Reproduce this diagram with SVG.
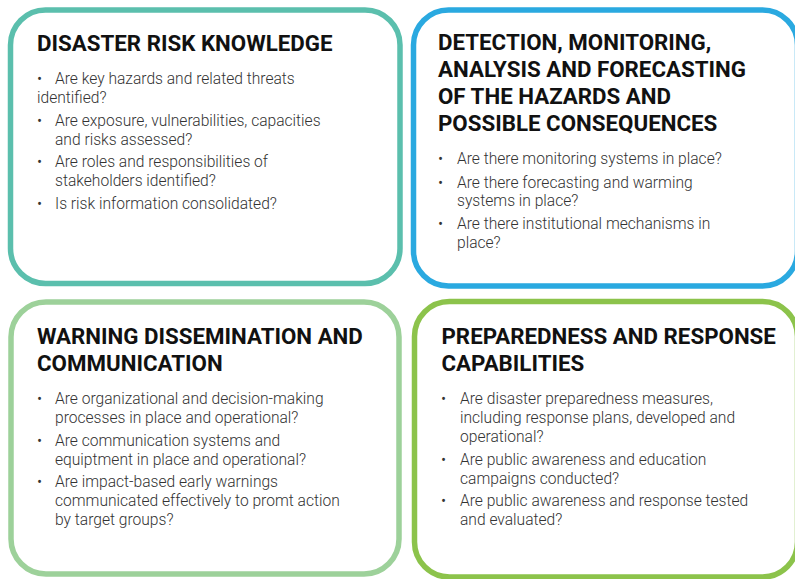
<svg xmlns="http://www.w3.org/2000/svg" width="795" height="579" viewBox="0 0 795 579">
  <style>
    .card { fill: #ffffff; stroke-width: 5.5; }
    .title { font-family: Roboto, "Liberation Sans", sans-serif; font-weight: 700; font-size: 22.3px; fill: #111111; }
    .body { font-family: Roboto, "Liberation Sans", sans-serif; font-weight: 300; font-size: 15.6px; fill: #333333; }
  </style>
  <rect width="795" height="579" fill="#ffffff"/>

  <!-- Top left: risk knowledge -->
  <g id="risk-knowledge">
    <rect class="card" x="10.5" y="10" width="389.5" height="273.5" rx="35" stroke="#5bbfad"/>
    <text class="title" x="37" y="50.5">DISASTER RISK KNOWLEDGE</text>
    <g transform="translate(0,1)">
      <text class="body" x="37" y="83">•</text>
      <text class="body" x="55" y="83">Are key hazards and related threats</text>
      <text class="body" x="37" y="102">identified?</text>
      <text class="body" x="37" y="125">•</text>
      <text class="body" x="55" y="125">Are exposure, vulnerabilities, capacities</text>
      <text class="body" x="55" y="144">and risks assessed?</text>
      <text class="body" x="37" y="166">•</text>
      <text class="body" x="55" y="166">Are roles and responsibilities of</text>
      <text class="body" x="55" y="185">stakeholders identified?</text>
      <text class="body" x="37" y="208">•</text>
      <text class="body" x="55" y="208">Is risk information consolidated?</text>
    </g>
  </g>

  <!-- Top right: detection and forecasting -->
  <g id="detection-forecasting">
    <rect class="card" x="413.5" y="10" width="384" height="276" rx="35" stroke="#2aa9e0"/>
    <text class="title" x="438" y="50">DETECTION, MONITORING,</text>
    <text class="title" x="438" y="77">ANALYSIS AND FORECASTING</text>
    <text class="title" x="438" y="104">OF THE HAZARDS AND</text>
    <text class="title" x="438" y="130.5">POSSIBLE CONSEQUENCES</text>
    <g transform="translate(0,1)">
      <text class="body" x="438" y="163">•</text>
      <text class="body" x="457" y="163">Are there monitoring systems in place?</text>
      <text class="body" x="438" y="187">•</text>
      <text class="body" x="457" y="187">Are there forecasting and warming</text>
      <text class="body" x="457" y="205">systems in place?</text>
      <text class="body" x="438" y="228">•</text>
      <text class="body" x="457" y="228">Are there institutional mechanisms in</text>
      <text class="body" x="457" y="247">place?</text>
    </g>
  </g>

  <!-- Bottom left: warning dissemination -->
  <g id="warning-dissemination">
    <rect class="card" x="11" y="302" width="388" height="272" rx="35" stroke="#9dd19a"/>
    <text class="title" x="37" y="343.5">WARNING DISSEMINATION AND</text>
    <text class="title" x="37" y="370.5">COMMUNICATION</text>
    <g transform="translate(0,1)">
      <text class="body" x="37" y="403">•</text>
      <text class="body" x="55" y="403">Are organizational and decision-making</text>
      <text class="body" x="55" y="422">processes in place and operational?</text>
      <text class="body" x="37" y="445">•</text>
      <text class="body" x="55" y="445">Are communication systems and</text>
      <text class="body" x="55" y="464">equiptment in place and operational?</text>
      <text class="body" x="37" y="486">•</text>
      <text class="body" x="55" y="486">Are impact-based early warnings</text>
      <text class="body" x="55" y="505">communicated effectively to promt action</text>
      <text class="body" x="55" y="524">by target groups?</text>
    </g>
  </g>

  <!-- Bottom right: preparedness -->
  <g id="preparedness-response">
    <rect class="card" x="414.5" y="301.5" width="383" height="275.5" rx="35" stroke="#8cc34b"/>
    <text class="title" x="441.5" y="343.5">PREPAREDNESS AND RESPONSE</text>
    <text class="title" x="441.5" y="370.5">CAPABILITIES</text>
    <g transform="translate(0,1)">
      <text class="body" x="441" y="403">•</text>
      <text class="body" x="460" y="403">Are disaster preparedness measures,</text>
      <text class="body" x="460" y="422">including response plans, developed and</text>
      <text class="body" x="460" y="441">operational?</text>
      <text class="body" x="441" y="464">•</text>
      <text class="body" x="460" y="464">Are public awareness and education</text>
      <text class="body" x="460" y="483">campaigns conducted?</text>
      <text class="body" x="441" y="505">•</text>
      <text class="body" x="460" y="505">Are public awareness and response tested</text>
      <text class="body" x="460" y="524">and evaluated?</text>
    </g>
  </g>
</svg>
